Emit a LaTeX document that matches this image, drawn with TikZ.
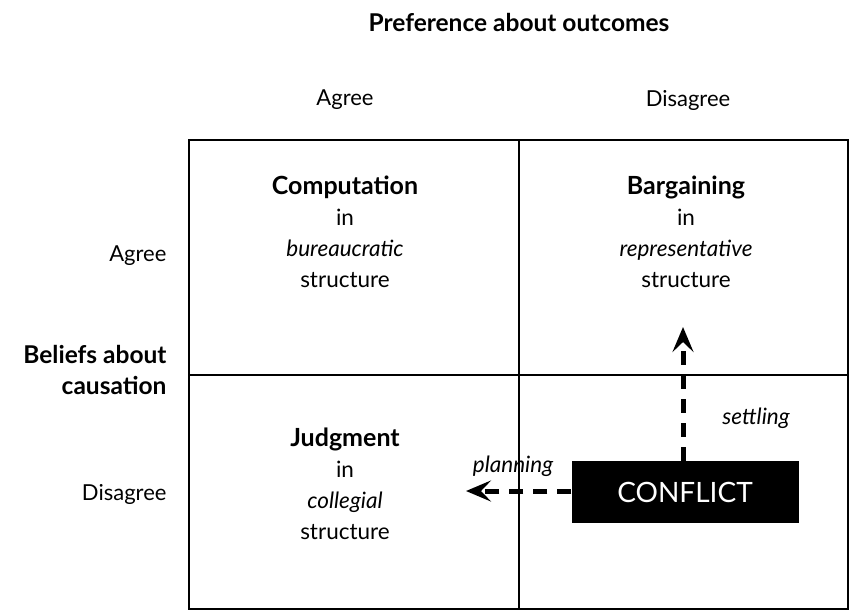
\documentclass[tikz,border=0pt]{standalone}
\usepackage{fontspec}
\setmainfont{Lato}
\usetikzlibrary{arrows.meta}
\begin{document}
\begin{tikzpicture}[x=1pt,y=-1pt,
  grid/.style={line width=2pt},
  lbl/.style={font=\fontsize{22}{26}\selectfont},
  head/.style={font=\bfseries\fontsize{24.5}{31}\selectfont},
  cell/.style={align=center,font=\fontsize{22.5}{31}\selectfont},
  flow/.style={line width=5pt,dash pattern=on 14pt off 10pt,-{Stealth[length=25pt,width=21pt,inset=10pt]}}]
\useasboundingbox (0,0) rectangle (850,614);
\node[head] (title) at (519,22) {Preference about outcomes};
\node[lbl] (ca) at (345,100) {Agree};
\node[lbl] (cd) at (688,100) {Disagree};
\node[lbl,anchor=east] (ra) at (170,256) {Agree};
\node[head,anchor=east,align=right] (rb) at (170,370) {Beliefs about\\causation};
\node[lbl,anchor=east] (rd) at (170,494) {Disagree};
\draw[grid] (189,140) rectangle (848,609);
\draw[grid] (519,140) -- (519,609);
\draw[grid] (189,375) -- (848,375);
\node[cell] (comp) at (345,232) {\textbf{\fontsize{25}{31}\selectfont Computation}\\in\\\textit{bureaucratic}\\structure};
\node[cell] (barg) at (686,232) {\textbf{\fontsize{25}{31}\selectfont Bargaining}\\in\\\textit{representative}\\structure};
\node[cell] (judg) at (345,484) {\textbf{\fontsize{25}{31}\selectfont Judgment}\\in\\\textit{collegial}\\structure};
\node[fill=black,text=white,minimum width=227pt,minimum height=62pt,inner sep=0pt,font=\fontsize{28}{32}\selectfont] (conf) at (685,492) {CONFLICT};
\coordinate (up) at (683,327);
\coordinate (left) at (466,491);
\draw[flow] (conf.north -| up) -- (up);
\draw[flow] (conf.west |- left) -- (left);
\node[font=\itshape\fontsize{22.5}{26}\selectfont] (set) at (756,418) {settling};
\node[font=\itshape\fontsize{22.5}{26}\selectfont] (plan) at (513,466) {planning};
\end{tikzpicture}
\end{document}
